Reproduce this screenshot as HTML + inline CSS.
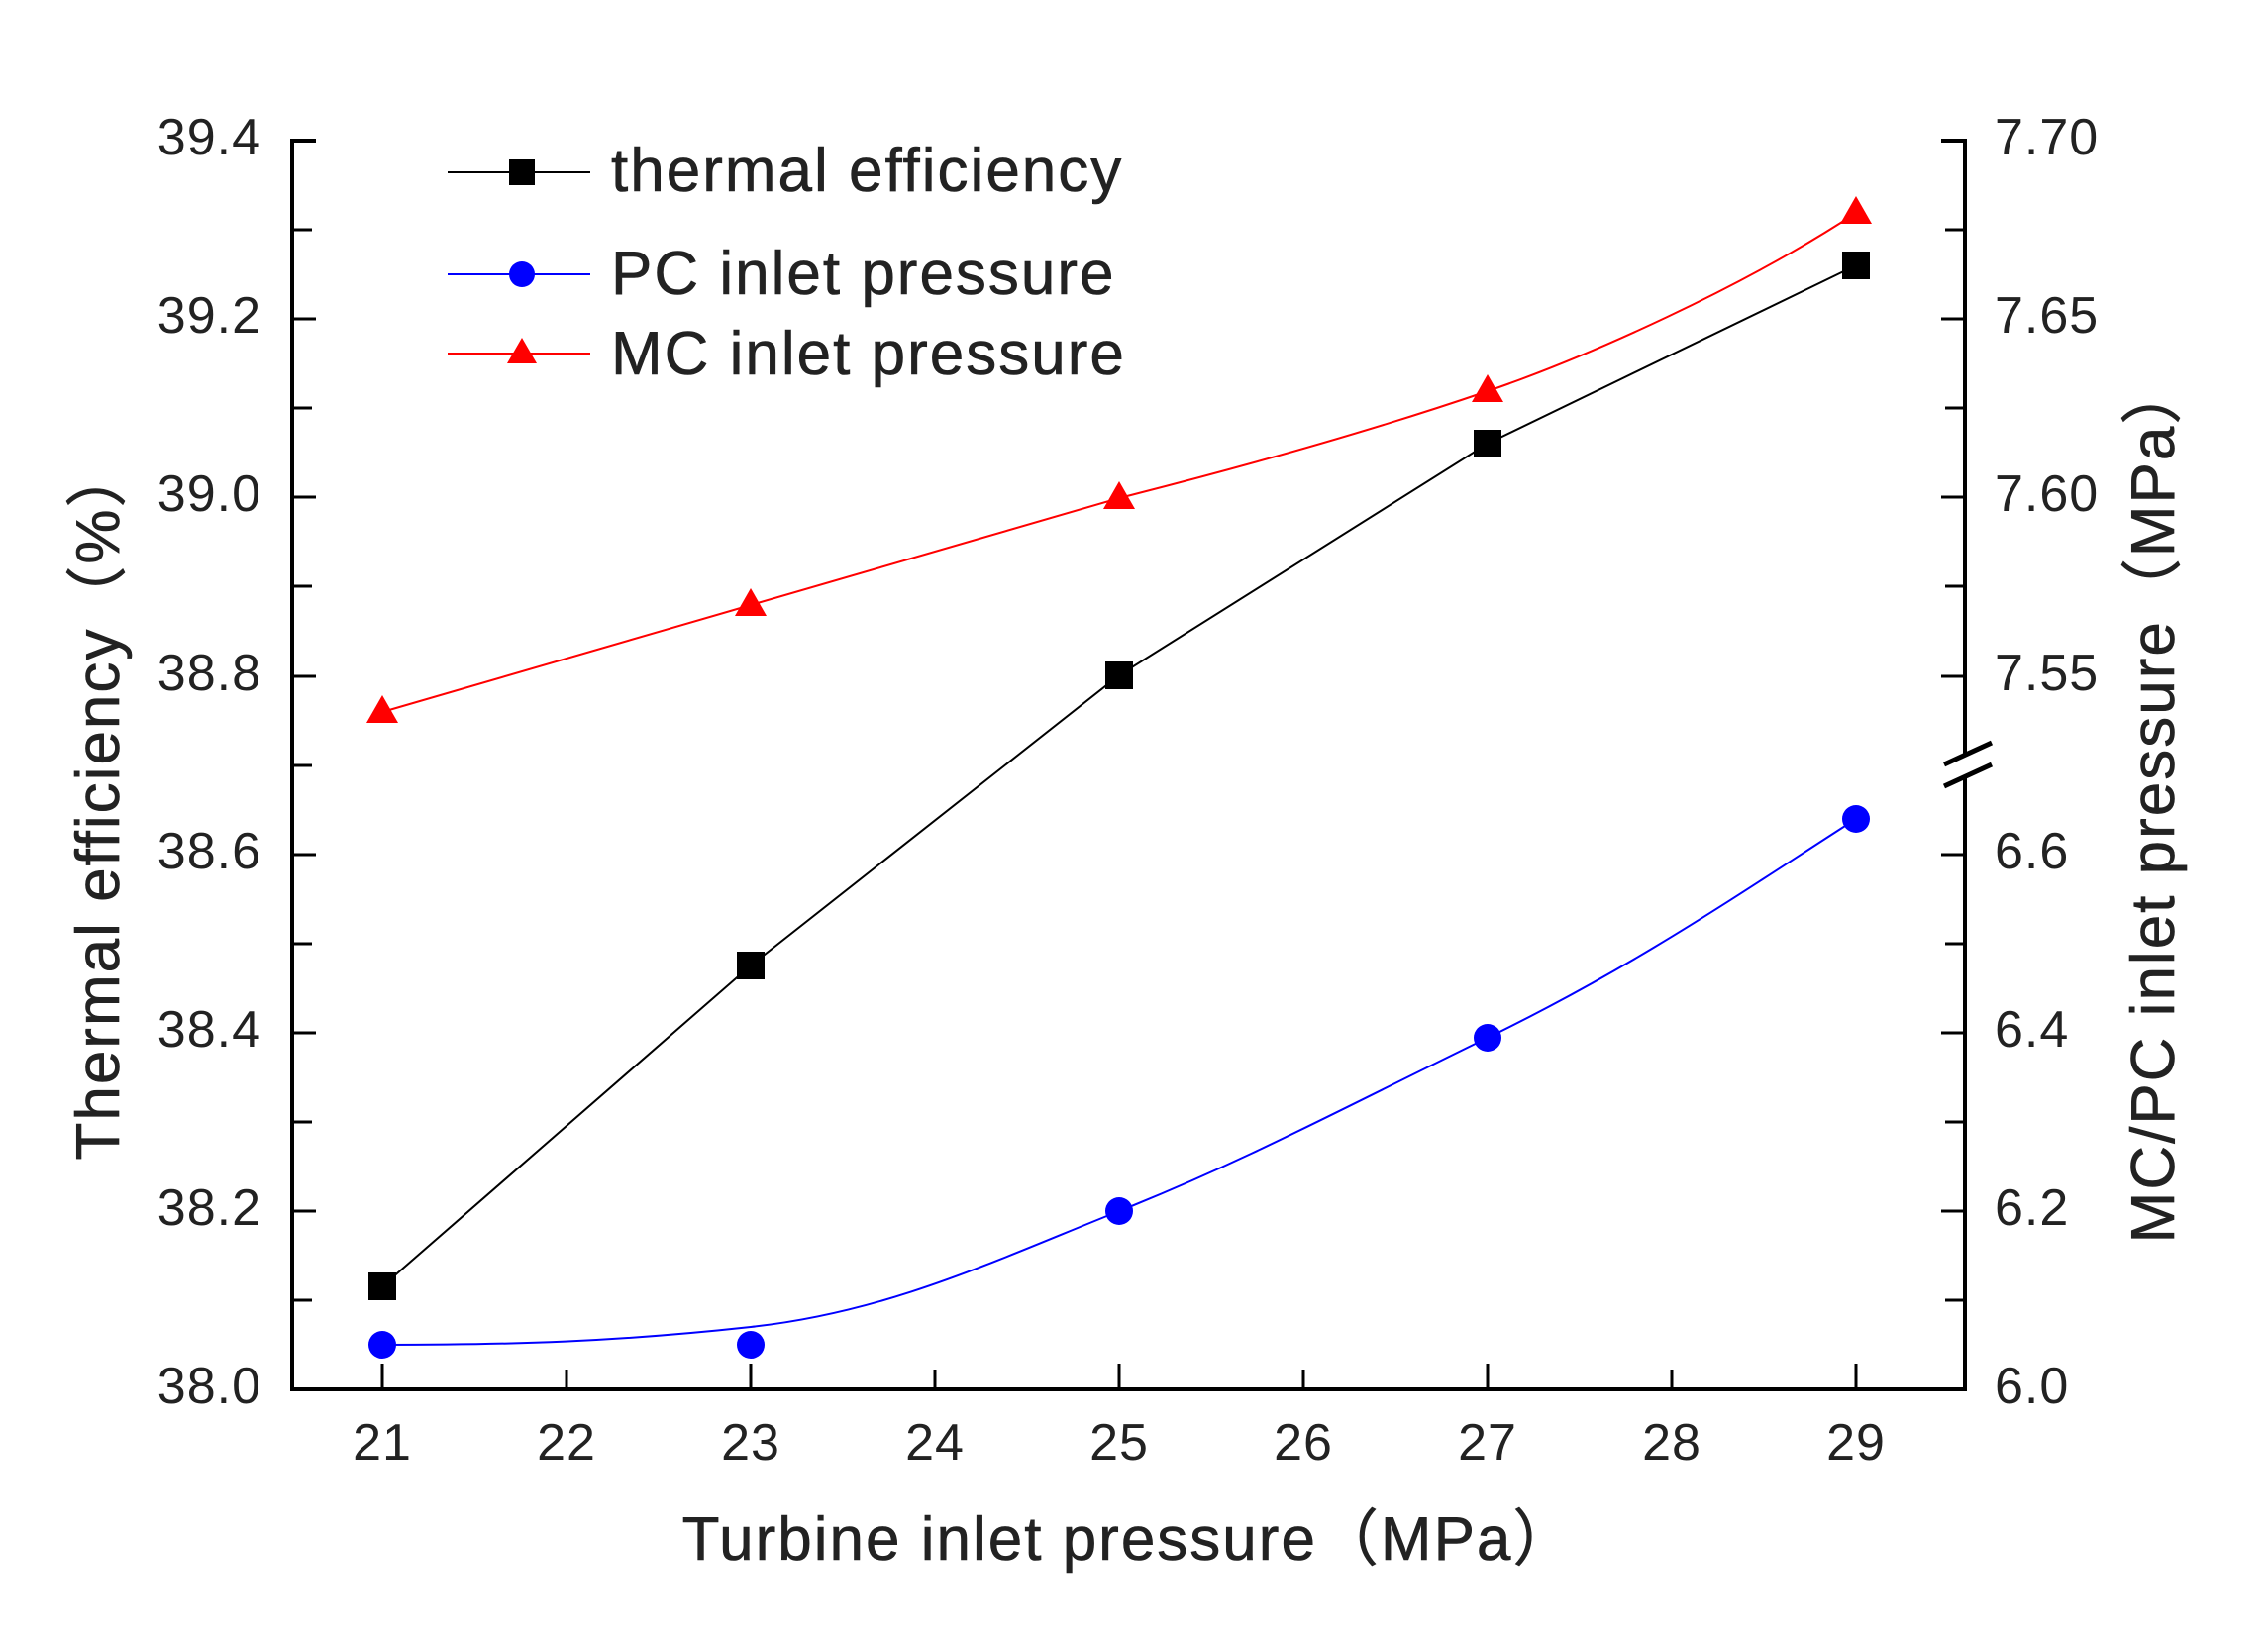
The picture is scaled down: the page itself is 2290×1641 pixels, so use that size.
<!DOCTYPE html>
<html><head><meta charset="utf-8"><style>html,body{margin:0;padding:0;background:#fff}svg{display:block}</style></head>
<body>
<svg width="2290" height="1641" viewBox="0 0 2290 1641" xmlns="http://www.w3.org/2000/svg" font-family="Liberation Sans, Noto Sans CJK SC, sans-serif" fill="#222">
<rect width="2290" height="1641" fill="#fff"/>
<g stroke="#000" stroke-width="4" fill="none">
<path d="M319,142 H295 V1403 H1984 V783 M1984,762 V142 H1960"/>
<path d="M1963,772 L2011,750 M1963,794 L2011,772" stroke-width="5"/>
</g>
<g stroke="#000" stroke-width="3">
<path d="M295,232h20M295,322h24M295,412h20M295,502h24M295,592h20M295,683h24M295,773h20M295,863h24M295,953h20M295,1043h24M295,1133h20M295,1223h24M295,1313h20"/>
<path d="M1984,232h-20M1984,322h-24M1984,412h-20M1984,502h-24M1984,592h-20M1984,683h-24M1984,863h-24M1984,953h-20M1984,1043h-24M1984,1133h-20M1984,1223h-24M1984,1313h-20"/>
<path d="M386,1403v-26M572,1403v-20M758,1403v-26M944,1403v-20M1130,1403v-26M1316,1403v-20M1502,1403v-26M1688,1403v-20M1874,1403v-26"/>
</g>
<g font-size="52" text-anchor="end" letter-spacing="1">
<text x="264" y="156">39.4</text><text x="264" y="336">39.2</text><text x="264" y="516">39.0</text><text x="264" y="697">38.8</text><text x="264" y="877">38.6</text><text x="264" y="1057">38.4</text><text x="264" y="1237">38.2</text><text x="264" y="1417">38.0</text>
</g>
<g font-size="52" letter-spacing="1">
<text x="2014" y="156">7.70</text><text x="2014" y="336">7.65</text><text x="2014" y="516">7.60</text><text x="2014" y="697">7.55</text><text x="2014" y="877">6.6</text><text x="2014" y="1057">6.4</text><text x="2014" y="1237">6.2</text><text x="2014" y="1417">6.0</text>
</g>
<g font-size="52" text-anchor="middle" letter-spacing="1">
<text x="386" y="1474">21</text><text x="572" y="1474">22</text><text x="758" y="1474">23</text><text x="944" y="1474">24</text><text x="1130" y="1474">25</text><text x="1316" y="1474">26</text><text x="1502" y="1474">27</text><text x="1688" y="1474">28</text><text x="1874" y="1474">29</text>
</g>
<g font-size="62" letter-spacing="2" stroke="#222" stroke-width="0.6">
<text x="1140" y="1575" text-anchor="middle">Turbine inlet pressure（MPa）</text>
<text transform="translate(120,810) rotate(-90)" text-anchor="middle">Thermal efficiency（%）</text>
<text transform="translate(2195,810) rotate(-90)" text-anchor="middle">MC/PC inlet pressure（MPa）</text>
</g>
<!-- series -->
<polyline points="386,1299 758,975 1130,682 1502,448 1874,268" fill="none" stroke="#000" stroke-width="2"/>
<path d="M386,1358 C520,1358 620,1355 758,1340 S1000,1275 1130,1223 S1350,1122 1502,1048 S1760,900 1874,827" fill="none" stroke="#00f" stroke-width="2"/>
<path d="M386,719 L758,611 L1130,503 C1280,465 1400,430 1502,395 S1760,290 1874,215" fill="none" stroke="#f00" stroke-width="2"/>
<g fill="#000"><rect x="372" y="1285" width="28" height="28"/><rect x="744" y="961" width="28" height="28"/><rect x="1116" y="668" width="28" height="28"/><rect x="1488" y="434" width="28" height="28"/><rect x="1860" y="254" width="28" height="28"/></g>
<g fill="#00f"><circle cx="386" cy="1358" r="14"/><circle cx="758" cy="1358" r="14"/><circle cx="1130" cy="1223" r="14"/><circle cx="1502" cy="1048" r="14"/><circle cx="1874" cy="827" r="14"/></g>
<g fill="#f00"><path d="M386,702 l16,28 h-32z"/><path d="M758,594 l16,28 h-32z"/><path d="M1130,486 l16,28 h-32z"/><path d="M1502,378 l16,28 h-32z"/><path d="M1874,198 l16,28 h-32z"/></g>
<!-- legend -->
<line x1="452" y1="174" x2="596" y2="174" stroke="#000" stroke-width="2"/><rect x="514" y="161" width="26" height="26" fill="#000"/>
<line x1="452" y1="277" x2="596" y2="277" stroke="#00f" stroke-width="2"/><circle cx="527" cy="277" r="13" fill="#00f"/>
<line x1="452" y1="357" x2="596" y2="357" stroke="#f00" stroke-width="2"/><path d="M527,341 l15,26 h-30z" fill="#f00"/>
<g font-size="62" letter-spacing="2" stroke="#222" stroke-width="0.6"><text x="617" y="193">thermal efficiency</text><text x="617" y="297">PC inlet pressure</text><text x="617" y="378">MC inlet pressure</text></g>
</svg>
</body></html>
